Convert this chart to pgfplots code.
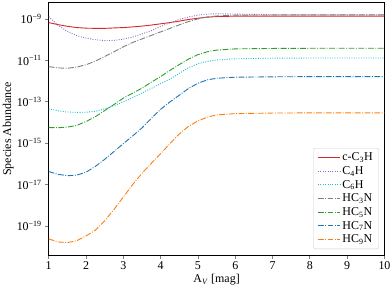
\documentclass[border=0pt]{standalone}
\usepackage{fontspec}
\setmainfont{Liberation Serif}
\usepackage{pgfplots}
\pgfplotsset{compat=1.18}
\definecolor{tabblue}{HTML}{1F77B4}
\definecolor{taborange}{HTML}{FF7F0E}
\definecolor{tabgreen}{HTML}{2CA02C}
\definecolor{tabred}{HTML}{D62728}
\definecolor{tabpurple}{HTML}{9467BD}
\definecolor{tabgray}{HTML}{7F7F7F}
\definecolor{tabcyan}{HTML}{17BECF}
\tikzset{
  mpldashdot/.style={line width=0.9bp, dash pattern=on 5.8bp off 1.5bp on 0.9bp off 1.5bp},
  mpldotted/.style={line width=0.9bp, dash pattern=on 0.9bp off 1.5bp},
  mplsolid/.style={line width=0.9bp}
}
\begin{document}
\begin{tikzpicture}[font=\fontsize{12}{14}\selectfont]
\begin{axis}[
  scale only axis, width=335.8bp, height=252.3bp,
  at={(0,0)}, anchor=south west,
  xmin=1, xmax=10,
  ymode=log, log basis y=10,
  ymin=3.98e-21, ymax=6.17e-9,
  xtick={1,2,3,4,5,6,7,8,9,10},
  ytick={1e-19,1e-17,1e-15,1e-13,1e-11,1e-9},
  minor y tick num=0,
  xticklabel={\pgfmathprintnumber[assume math mode=true]{\tick}},
  yticklabel={\pgfmathparse{int(round(-\tick))}10\textsuperscript{−\pgfmathresult}},
  tick align=outside, xtick pos=left, ytick pos=left,
  major tick length=3.5bp,
  tick style={line width=0.8bp},
  axis line style={line width=0.8bp},
  xlabel={A\textsubscript{\textit{V}} [mag]},
  ylabel={Species Abundance},
  every axis x label/.style={at={(axis description cs:0.5,0)}, anchor=center, yshift=-25bp},
  every axis y label/.style={at={(axis description cs:0,0.5)}, rotate=90, anchor=center, yshift=40.5bp},
  legend cell align=left,
  legend style={at={(1,0)}, anchor=south east, xshift=-5.5bp, yshift=6bp,
    draw=black!20, rounded corners=2bp, fill=white,
    font=\fontsize{12}{14}\selectfont, row sep=0.3bp, inner xsep=4bp, inner ysep=2.5bp},
]
\addplot[tabred, mplsolid, legend image code/.code={\color{tabred}\draw[tabred, mplsolid] (0bp,0bp) -- (22bp,0bp);}] coordinates {
(1.0,6.76e-10) (1.25,5.37e-10) (1.5,4.47e-10) (1.75,3.89e-10) (2.0,3.63e-10)
(2.25,3.55e-10) (2.5,3.55e-10) (2.75,3.72e-10) (3.0,3.89e-10) (3.25,4.17e-10)
(3.5,4.57e-10) (3.75,5.13e-10) (4.0,5.89e-10) (4.25,6.76e-10) (4.5,7.94e-10)
(4.75,9.55e-10) (5.0,1.10e-9) (5.25,1.23e-9) (5.5,1.32e-9) (6.0,1.38e-9)
(7.0,1.38e-9) (8.0,1.38e-9) (9.0,1.38e-9) (10.0,1.38e-9)};
\addlegendentry{c-C\textsubscript{3}H}
\addplot[tabpurple, mpldotted, legend image code/.code={\color{tabpurple}\draw[tabpurple, mpldotted] (0bp,0bp) -- (22bp,0bp);}] coordinates {
(1.0,1.32e-9) (1.25,5.01e-10) (1.5,2.51e-10) (1.75,1.58e-10) (2.0,1.20e-10)
(2.25,1.00e-10) (2.5,9.12e-11) (2.75,9.33e-11) (3.0,1.07e-10) (3.25,1.35e-10)
(3.5,1.91e-10) (3.75,2.75e-10) (4.0,4.37e-10) (4.25,6.61e-10) (4.5,9.55e-10)
(4.75,1.26e-9) (5.0,1.55e-9) (5.25,1.74e-9) (5.5,1.82e-9) (6.0,1.74e-9)
(7.0,1.62e-9) (8.0,1.62e-9) (9.0,1.62e-9) (10.0,1.62e-9)};
\addlegendentry{C\textsubscript{4}H}
\addplot[tabcyan, mpldotted, legend image code/.code={\color{tabcyan}\draw[tabcyan, mpldotted] (0bp,0bp) -- (22bp,0bp);}] coordinates {
(1.0,4.57e-14) (1.25,3.72e-14) (1.5,3.24e-14) (1.75,3.09e-14) (2.0,3.16e-14)
(2.25,3.47e-14) (2.5,4.57e-14) (2.75,6.61e-14) (3.0,1.00e-13) (3.25,1.58e-13)
(3.5,2.69e-13) (3.75,4.47e-13) (4.0,7.59e-13) (4.25,1.26e-12) (4.5,2.40e-12)
(4.75,4.47e-12) (5.0,6.92e-12) (5.25,8.91e-12) (5.5,1.05e-11) (6.0,1.20e-11)
(7.0,1.29e-11) (8.0,1.31e-11) (9.0,1.32e-11) (10.0,1.32e-11)};
\addlegendentry{C\textsubscript{6}H}
\addplot[tabgray, mpldashdot, legend image code/.code={\color{tabgray}\draw[tabgray, mpldashdot] (0bp,0bp) -- (22bp,0bp);}] coordinates {
(1.0,5.01e-12) (1.25,4.37e-12) (1.5,4.17e-12) (1.75,4.79e-12) (2.0,6.17e-12)
(2.25,9.33e-12) (2.5,1.55e-11) (2.75,2.63e-11) (3.0,4.57e-11) (3.25,7.41e-11)
(3.5,1.10e-10) (3.75,1.62e-10) (4.0,2.40e-10) (4.25,3.55e-10) (4.5,5.25e-10)
(4.75,7.59e-10) (5.0,1.02e-9) (5.25,1.26e-9) (5.5,1.41e-9) (6.0,1.55e-9)
(7.0,1.58e-9) (8.0,1.58e-9) (9.0,1.58e-9) (10.0,1.58e-9)};
\addlegendentry{HC\textsubscript{3}N}
\addplot[tabgreen, mpldashdot, legend image code/.code={\color{tabgreen}\draw[tabgreen, mpldashdot] (0bp,0bp) -- (22bp,0bp);}] coordinates {
(1.0,5.75e-15) (1.25,5.62e-15) (1.5,6.03e-15) (1.75,7.24e-15) (2.0,1.12e-14)
(2.25,1.91e-14) (2.5,3.80e-14) (2.75,7.41e-14) (3.0,1.51e-13) (3.25,2.63e-13)
(3.5,4.57e-13) (3.75,8.91e-13) (4.0,1.66e-12) (4.25,3.31e-12) (4.5,6.31e-12)
(4.75,1.17e-11) (5.0,1.91e-11) (5.25,2.63e-11) (5.5,3.16e-11) (6.0,3.63e-11)
(7.0,3.80e-11) (8.0,3.87e-11) (9.0,3.89e-11) (10.0,3.89e-11)};
\addlegendentry{HC\textsubscript{5}N}
\addplot[tabblue, mpldashdot, legend image code/.code={\color{tabblue}\draw[tabblue, mpldashdot] (0bp,0bp) -- (22bp,0bp);}] coordinates {
(1.0,4.27e-17) (1.25,3.16e-17) (1.5,2.69e-17) (1.75,2.88e-17) (2.0,3.98e-17)
(2.25,7.59e-17) (2.5,1.66e-16) (2.75,3.98e-16) (3.0,9.55e-16) (3.25,2.24e-15)
(3.5,5.50e-15) (3.75,1.58e-14) (4.0,4.37e-14) (4.25,1.00e-13) (4.5,2.09e-13)
(4.75,4.47e-13) (5.0,7.94e-13) (5.25,1.15e-12) (5.5,1.38e-12) (6.0,1.55e-12)
(7.0,1.62e-12) (8.0,1.65e-12) (9.0,1.66e-12) (10.0,1.66e-12)};
\addlegendentry{HC\textsubscript{7}N}
\addplot[taborange, mpldashdot, legend image code/.code={\color{taborange}\draw[taborange, mpldashdot] (0bp,0bp) -- (22bp,0bp);}] coordinates {
(1.0,2.40e-20) (1.25,1.70e-20) (1.5,1.58e-20) (1.75,1.95e-20) (2.0,3.31e-20)
(2.25,6.31e-20) (2.5,1.78e-19) (2.75,6.31e-19) (3.0,2.51e-18) (3.25,1.00e-17)
(3.5,3.55e-17) (3.75,1.07e-16) (4.0,3.16e-16) (4.25,9.55e-16) (4.5,2.82e-15)
(4.75,6.61e-15) (5.0,1.20e-14) (5.25,1.82e-14) (5.5,2.34e-14) (6.0,2.69e-14)
(7.0,2.88e-14) (8.0,2.93e-14) (9.0,2.95e-14) (10.0,2.95e-14)};
\addlegendentry{HC\textsubscript{9}N}
\end{axis}
\pgfresetboundingbox
\path[use as bounding box] (-48.7bp,-34bp) rectangle (342.3bp,255bp);
\end{tikzpicture}
\end{document}
